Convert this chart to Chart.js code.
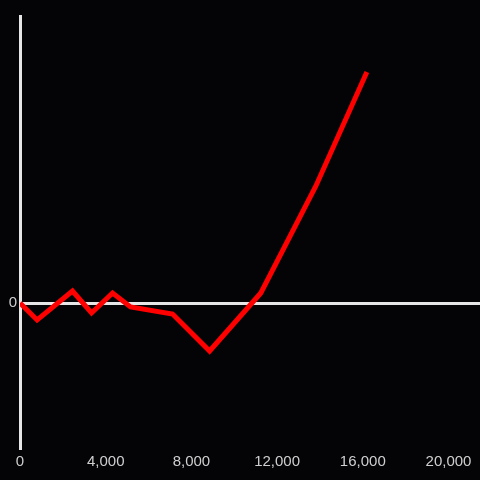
<!DOCTYPE html>
<html>
<head>
<meta charset="utf-8">
<script src="https://cdn.jsdelivr.net/npm/chart.js@4/dist/chart.umd.min.js"></script>
<style>
  html, body { margin: 0; padding: 0; background: #040306; }
  #wrap { width: 480px; height: 480px; }
</style>
</head>
<body>
<div id="wrap"><canvas id="chart" width="480" height="480"></canvas></div>
<script>
// x positions and values
const xValues = [0, 800, 2450, 3340, 4320, 5160, 7120, 8850, 11240, 13810, 16190];
const yValues = [0, -170, 120, -100, 100, -40, -110, -480, 100, 1170, 2310];
const xTicks = [0, 4000, 8000, 12000, 16000, 20000];
const yTicks = [0];

const axisColor = '#e6e6e6';
const labelColor = '#cfcfcf';

const points = xValues.map((x, i) => ({ x: x, y: yValues[i] }));

new Chart(document.getElementById('chart').getContext('2d'), {
    type: 'line',
    data: {
        datasets: [{
            data: points,
            borderColor: '#ff0000',
            borderWidth: 5,
            pointRadius: 0,
            tension: 0,
            borderJoinStyle: 'miter',
            fill: false
        }]
    },
    options: {
        responsive: false,
        animation: false,
        layout: { padding: { top: 16, right: 0, left: 0, bottom: 0 } },
        plugins: { legend: { display: false }, tooltip: { enabled: false } },
        scales: {
            x: {
                type: 'linear',
                min: 0,
                max: 21470,
                afterBuildTicks: axis => { axis.ticks = xTicks.map(v => ({ value: v })); },
                afterFit: axis => { axis.height = 32; },
                grid: { display: false, drawTicks: false },
                border: { display: false },
                ticks: {
                    color: labelColor,
                    padding: 5,
                    maxRotation: 0,
                    font: { family: 'Liberation Sans', size: 15 },
                    callback: v => v.toLocaleString('en-US')
                }
            },
            y: {
                min: -1450,
                max: 2870,
                afterBuildTicks: axis => { axis.ticks = yTicks.map(v => ({ value: v })); },
                afterFit: axis => { axis.width = 20; },
                grid: { color: axisColor, lineWidth: 3, drawTicks: false },
                border: { display: true, color: axisColor, width: 3 },
                ticks: {
                    color: labelColor,
                    padding: 3,
                    font: { family: 'Liberation Sans', size: 15 }
                }
            }
        }
    }
});
</script>
</body>
</html>
